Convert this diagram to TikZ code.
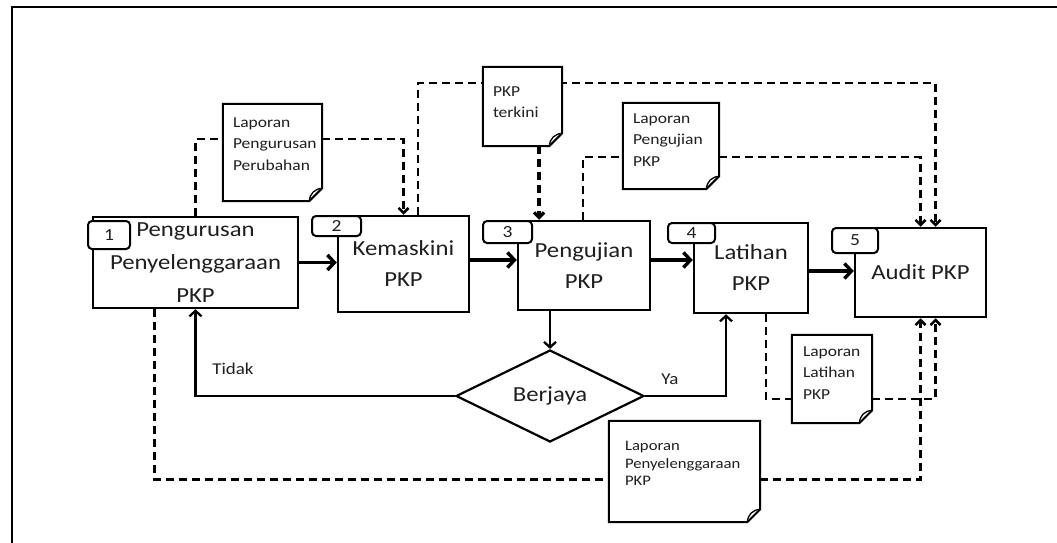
\documentclass[tikz,border=0pt]{standalone}
\usepackage{fontspec}
\setmainfont{Carlito}[FakeStretch=1.15]
\usetikzlibrary{arrows.meta,shapes.geometric}

\newcommand\procfont{\fontsize{21.5}{31}\selectfont}
\newcommand\notefont{\fontsize{15.2}{21.5}\selectfont}
\newcommand\notefontE{\fontsize{14.5}{17.5}\selectfont}
\newcommand\tabfont{\fontsize{17}{18}\selectfont}
\newcommand\labfont{\fontsize{16.5}{18}\selectfont}

% outline of a note sheet with a curled bottom-right corner
\newcommand\notefold[1]{%
  \draw[noteline] (#1.north west) -- (#1.north east) -- ([yshift=13pt]#1.south east)
    -- ([xshift=-13pt]#1.south east) -- (#1.south west) -- cycle;
  \draw[line width=1.3pt] ([xshift=-13pt]#1.south east)
    .. controls +(1pt,8pt) and +(-8pt,-1pt) .. ([yshift=13pt]#1.south east);}

\begin{document}
\begin{tikzpicture}[x=1pt,y=-1pt,
  every node/.style={text=black!88},
  proc/.style={draw, line width=2.5pt, fill=white, inner sep=0pt, align=center, font=\procfont},
  numtab/.style={draw, line width=2pt, rounded corners=4pt, fill=white, inner sep=0pt, font=\tabfont},
  notebox/.style={rectangle, inner sep=0pt},
  noteline/.style={draw, line width=2pt, fill=white},
  notetext/.style={inner sep=0pt, align=left, anchor=north west, font=\notefont},
  flow/.style={line width=3.4pt, -{Straight Barb[length=7pt,width=15pt]}},
  thinflow/.style={line width=2.3pt, -{Straight Barb[length=5.5pt,width=12pt]}},
  docflow/.style={line width=2.5pt, dash pattern=on 8pt off 5pt},
  docarrow/.style={docflow, -{Straight Barb[length=5pt,width=10pt]}},
  lab/.style={inner sep=0pt, font=\labfont}]

\useasboundingbox (0,0) rectangle (1057,543);
\fill[white] (0,0) rectangle (1057,543);
\draw[line width=2.2pt] (12,550) -- (12,7) -- (1065,7);

% process boxes
\node[proc, minimum width=205pt, minimum height=91pt, font=\fontsize{21.5}{33}\selectfont] (b1) at (195.5,262.5) {Pengurusan\\Penyelenggaraan\\PKP};
\node[proc, minimum width=131pt, minimum height=96pt] (b2) at (403.5,264) {Kemaskini\\PKP};
\node[proc, minimum width=132pt, minimum height=89pt] (b3) at (584,265.5) {Pengujian\\PKP};
\node[proc, minimum width=114pt, minimum height=90pt] (b4) at (751,268) {Latihan\\PKP};
\node[proc, minimum width=131pt, minimum height=89pt] (b5) at (920.5,272.5) {Audit PKP};

% step numbers
\node[numtab, minimum width=42pt, minimum height=28pt] (t1) at (109,235) {1};
\node[numtab, minimum width=49pt, minimum height=20pt] (t2) at (336.5,226) {2};
\node[numtab, minimum width=49pt, minimum height=22pt] (t3) at (507.5,232) {3};
\node[numtab, minimum width=47pt, minimum height=20pt] (t4) at (691.5,233) {4};
\node[numtab, minimum width=46pt, minimum height=25pt] (t5) at (855,240.5) {5};

% decision
\node[diamond, draw, line width=2.2pt, fill=white, shape aspect=2, inner sep=0pt,
      minimum width=188pt, minimum height=92pt, font=\procfont] (dm) at (550,396) {Berjaya};

% note sheets (placed first, outlines drawn over the dashed lines)
\node[notebox, minimum width=99pt, minimum height=97pt] (dA) at (272.5,152.5) {};
\node[notebox, minimum width=79pt, minimum height=79pt] (dB) at (522.5,106.5) {};
\node[notebox, minimum width=96pt, minimum height=86pt] (dC) at (671,146) {};
\node[notebox, minimum width=80pt, minimum height=88pt] (dD) at (832,379) {};
\node[notebox, minimum width=151pt, minimum height=101pt] (dE) at (684.5,471.5) {};
\coordinate (topline) at (0,83);

% main flow
\draw[flow] (b1.east) -- (b1.east -| b2.west);
\draw[flow] ([yshift=4pt]b2.east) -- ([yshift=4pt]b2.east -| b3.west);
\draw[flow] ([yshift=5.5pt]b3.east) -- ([yshift=5.5pt]b3.east -| b4.west);
\draw[flow] ([yshift=-3pt]b4.east) -- ([yshift=-3pt]b4.east -| b5.west);
\draw[thinflow] (dm.north |- b3.south) -- (dm.north);
\draw[thinflow] (dm.west) -| (b1.south);
\draw[thinflow] (dm.east) -| ([xshift=-25pt]b4.south);
\node[lab] (tidak) at (233,369) {Tidak};
\node[lab] (ya) at (670,379) {Ya};

% document flows
\draw[docflow] (b1.north) |- ([yshift=13.5pt]dA.west);
\draw[docarrow] ([yshift=13.5pt]dA.east) -| (b2.north);
\draw[docarrow] ([xshift=14.5pt]b2.north) |- ([xshift=15pt]b5.north |- topline) -- ([xshift=15pt]b5.north);
\draw[docarrow, line width=3.2pt] ([xshift=16.5pt]dB.south) -- ([xshift=16.5pt]dB.south |- b3.north);
\draw[docflow] ([xshift=-1pt]b3.north) |- ([yshift=-11pt]dC.west);
\draw[docarrow] ([yshift=-11pt]dC.east) -| (b5.north);
\draw[docflow] ([xshift=15pt]b4.south) |- ([yshift=-20pt]dD.west);
\draw[docarrow] ([yshift=-20pt]dD.east) -| ([xshift=15pt]b5.south);
\draw[docflow] ([xshift=-41pt]b1.south) |- ([yshift=-8pt]dE.west);
\draw[docarrow] ([yshift=-8pt]dE.east) -| (b5.south);

% note sheets
\notefold{dA}
\notefold{dB}
\notefold{dC}
\notefold{dD}
\notefold{dE}
\node[notetext] (tA) at ([shift={(10pt,-13.5pt)}]dA.north west) {Laporan\\Pengurusan\\Perubahan};
\node[notetext] (tB) at ([shift={(10pt,-19.5pt)}]dB.north west) {PKP\\terkini};
\node[notetext] (tC) at ([shift={(10pt,-10.5pt)}]dC.north west) {Laporan\\Pengujian\\PKP};
\node[notetext] (tD) at ([shift={(11pt,-11.5pt)}]dD.north west) {Laporan\\Latihan\\PKP};
\node[notetext, font=\notefontE] (tE) at ([shift={(16pt,-20.5pt)}]dE.north west) {Laporan\\Penyelenggaraan\\PKP};
\end{tikzpicture}
\end{document}
